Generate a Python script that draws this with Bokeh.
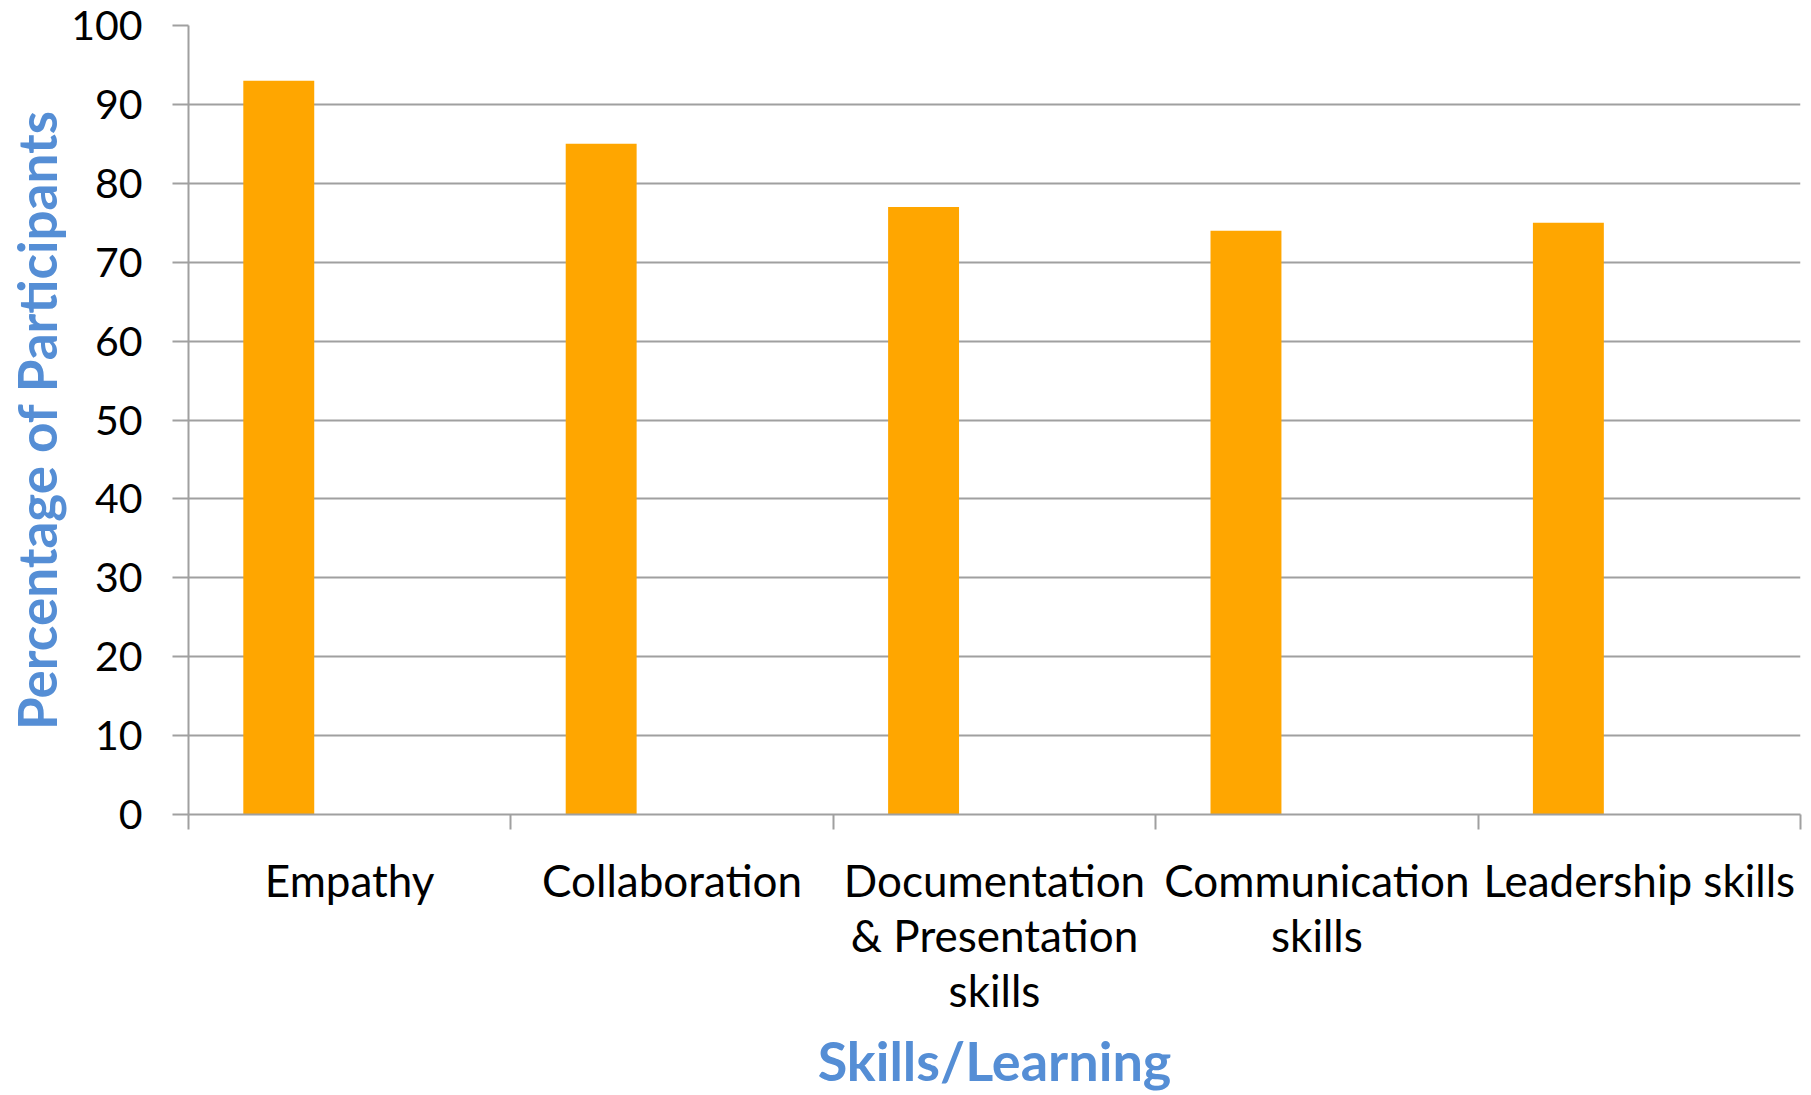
from bokeh.plotting import figure
from bokeh.models import (Range1d, FactorRange, LinearAxis, CategoricalAxis,
                          FixedTicker, ColumnDataSource, CustomLabelingPolicy)
from bokeh.transform import dodge
from bokeh.embed import file_html
from bokeh.resources import INLINE

categories = ["Empathy", "Collaboration", "Documentation\n& Presentation\nskills",
              "Communication\nskills", "Leadership skills"]
values = [93, 85, 77, 74, 75]
y_ticks = [0, 10, 20, 30, 40, 50, 60, 70, 80, 90, 100]
boundaries = [0, 1, 2, 3, 4, 5]

FONT = "Lato"
BLUE = "#558ED5"
GRID = "#A0A0A0"

src = ColumnDataSource(dict(cat=categories, val=values))

p = figure(width=1811, height=1095, output_backend="svg", toolbar_location=None,
           x_range=FactorRange(*categories, range_padding=0), y_range=Range1d(0, 100),
           x_axis_location=None, y_axis_location=None,
           min_border_left=188, min_border_right=11, min_border_top=25,
           min_border_bottom=281)
p.outline_line_color = None
p.background_fill_color = "white"
p.border_fill_color = "white"

# y axis
yax = LinearAxis(ticker=FixedTicker(ticks=y_ticks))
yax.axis_line_color = GRID
yax.axis_line_width = 2
yax.major_tick_line_color = GRID
yax.major_tick_line_width = 2
yax.major_tick_out = 16
yax.major_tick_in = 0
yax.minor_tick_line_color = None
yax.major_label_text_font = FONT
yax.major_label_text_font_size = "41px"
yax.major_label_text_color = "black"
yax.major_label_standoff = 30
yax.axis_label = "Percentage of Participants"
yax.axis_label_text_font = FONT
yax.axis_label_text_font_style = "bold"
yax.axis_label_text_font_size = "53px"
yax.axis_label_text_color = BLUE
yax.axis_label_standoff = 0
p.add_layout(yax, "left")

p.xgrid.visible = False
p.ygrid.ticker = yax.ticker
p.ygrid.grid_line_color = GRID
p.ygrid.grid_line_width = 2

p.vbar(x=dodge("cat", -0.22, range=p.x_range), top="val", width=0.22, bottom=0,
       source=src, fill_color="#FFA600", line_color=None)

# boundary tick axis (synthetic coordinates of the categorical range), no labels
bax = LinearAxis(ticker=FixedTicker(ticks=boundaries))
bax.axis_line_color = GRID
bax.axis_line_width = 2
bax.major_tick_line_color = GRID
bax.major_tick_line_width = 2
bax.major_tick_out = 15
bax.major_tick_in = 0
bax.minor_tick_line_color = None
bax.major_label_text_font_size = "0px"
bax.major_label_standoff = 0
bax.major_label_policy = CustomLabelingPolicy(
    code="return new indices.constructor(indices.size)")
p.add_layout(bax, "below")

# category label axis
cax = CategoricalAxis()
cax.axis_line_color = None
cax.major_tick_line_color = None
cax.major_tick_out = 0
cax.major_tick_in = 0
cax.major_label_text_font = FONT
cax.major_label_text_font_size = "44px"
cax.major_label_text_color = "black"
cax.major_label_text_line_height = 1.06
cax.major_label_standoff = 24
cax.axis_label = "Skills/Learning"
cax.axis_label_text_font = FONT
cax.axis_label_text_font_style = "bold"
cax.axis_label_text_font_size = "54px"
cax.axis_label_text_color = BLUE
cax.axis_label_standoff = 9
p.add_layout(cax, "below")

open("out.html", "w").write(file_html(p, INLINE))
